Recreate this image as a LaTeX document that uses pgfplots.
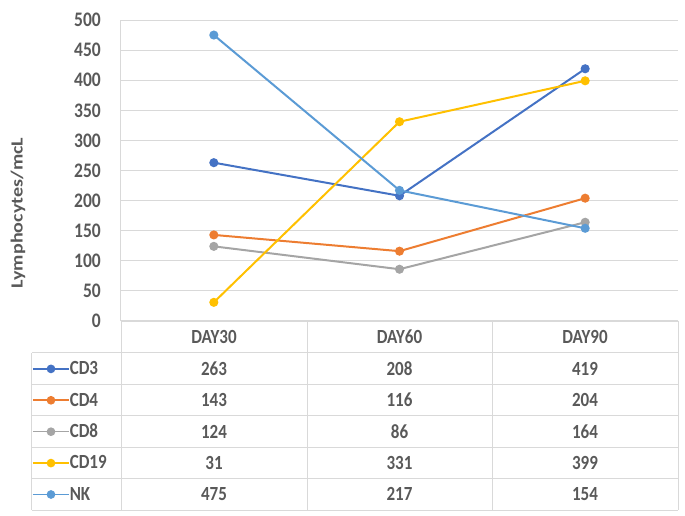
\documentclass[border=0pt]{standalone}
\usepackage{fontspec}
\setmainfont{Carlito}
\usepackage{graphicx}
\usepackage{pgfplots}
\pgfplotsset{compat=1.18}

\definecolor{cdthree}{HTML}{4472C4}
\definecolor{cdfour}{HTML}{ED7D31}
\definecolor{cdeight}{HTML}{A5A5A5}
\definecolor{cdnineteen}{HTML}{FFC000}
\definecolor{nkcol}{HTML}{5B9BD5}
\definecolor{txt}{HTML}{595959}
\definecolor{grd}{HTML}{D9D9D9}
% the reference is stretched vertically
\newcommand\st[1]{\scalebox{1}[1.18]{#1}}
\newcommand\tf{\fontsize{17}{20}\selectfont\bfseries\color{txt}}

\begin{document}
\begin{tikzpicture}[x=1pt,y=1pt]
\path[use as bounding box] (-121,-195) rectangle (564,321);
\begin{axis}[
    at={(0,0)}, anchor=south west,
    scale only axis, width=557pt, height=301pt,
    xmin=-0.5, xmax=2.5, ymin=0, ymax=500,
    ytick={0,50,...,500}, xtick=\empty,
    ymajorgrids, major grid style={grd, line width=1pt},
    axis x line*=bottom, axis y line*=left,
    axis line style={grd, line width=1pt, -},
    major tick length=0pt,
    /pgf/number format/assume math mode=true,
    yticklabel={\st{\pgfmathprintnumber{\tick}}},
    yticklabel style={font=\fontsize{17.5}{20}\selectfont\bfseries, text=txt,
        anchor=east, inner sep=0pt, xshift=-20pt},
    clip=false,
    every axis plot/.append style={line width=2pt, mark=*, mark size=3.5pt},
    legend cell align=left,
    legend style={at={(-0.1598,-0.1063)}, anchor=north west, draw=none, fill=none,
        inner sep=0pt, row sep=0pt,
        nodes={font=\tf, inner sep=0pt, minimum height=31.4pt},
        /tikz/every even column/.append style={column sep=2pt}},
    legend image code/.code={\draw[mark repeat=2,mark phase=2,#1,line width=1.6pt]
        plot coordinates {(0pt,0pt) (18pt,0pt) (36pt,0pt)};},
]
\addplot[cdthree, mark options={fill=cdthree}] coordinates {(0,263) (1,208) (2,419)};
\addlegendentry{\st{CD3}}
\addplot[cdfour, mark options={fill=cdfour}] coordinates {(0,143) (1,116) (2,204)};
\addlegendentry{\st{CD4}}
\addplot[cdeight, mark options={fill=cdeight}] coordinates {(0,124) (1,86) (2,164)};
\addlegendentry{\st{CD8}}
\addplot[cdnineteen, mark options={fill=cdnineteen}] coordinates {(0,31) (1,331) (2,399)};
\addlegendentry{\st{CD19}}
\addplot[nkcol, mark options={fill=nkcol}] coordinates {(0,475) (1,217) (2,154)};
\addlegendentry{\st{NK}}
\end{axis}

% data table grid
\begin{scope}[grd, line width=1pt]
\draw (0,0) -- (557,0);
\foreach \y in {-32,-63.4,-94.8,-126.2,-157.6,-189} \draw (-89,\y) -- (557,\y);
\draw (-89,-32) -- (-89,-189);
\foreach \x in {0,186,371,557} \draw (\x,0) -- (\x,-189);
\end{scope}

\node[font=\tf] at (93,-16) {\st{DAY30}};
\node[font=\tf] at (278.5,-16) {\st{DAY60}};
\node[font=\tf] at (464,-16) {\st{DAY90}};

\foreach \a/\b/\c [count=\i] in {263/208/419, 143/116/204, 124/86/164, 31/331/399, 475/217/154} {
  \pgfmathsetmacro\yy{-32-31.4*(\i-0.5)}
  \node[font=\tf] at (93,\yy) {\st{\a}};
  \node[font=\tf] at (278.5,\yy) {\st{\b}};
  \node[font=\tf] at (464,\yy) {\st{\c}};
}

\node[font=\tf, rotate=90] at (-103,108) {\scalebox{1.18}[1]{Lymphocytes/mcL}};
\end{tikzpicture}
\end{document}
